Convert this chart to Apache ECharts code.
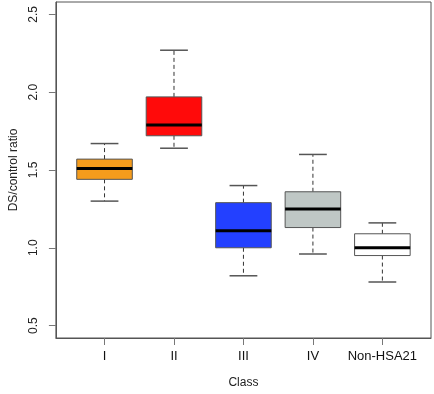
<!DOCTYPE html>
<html>
<head>
<meta charset="utf-8">
<script src="https://cdn.jsdelivr.net/npm/echarts@6/dist/echarts.min.js"></script>
<style>
html,body{margin:0;padding:0;background:#fff;}
#main{width:434px;height:394px;}
</style>
</head>
<body>
<div id="main"></div>
<script>
var classes = ['I', 'II', 'III', 'IV', 'Non-HSA21'];
// [min, Q1, median, Q3, max]
var stats = [
    [1.30, 1.44, 1.51, 1.57, 1.67],
    [1.64, 1.72, 1.79, 1.97, 2.27],
    [0.82, 1.00, 1.11, 1.29, 1.40],
    [0.96, 1.13, 1.25, 1.36, 1.60],
    [0.78, 0.95, 1.00, 1.09, 1.16]
];
var fills = ['#F59C1C', '#FF0A0A', '#2340FF', '#BFC7C5', '#FFFFFF'];
var yTicks = [0.5, 1.0, 1.5, 2.0, 2.5];
var xTicks = [0, 1, 2, 3, 4];

var myChart = echarts.init(document.getElementById('main'));

var data = [];
for (var i = 0; i < stats.length; i++) {
    data.push([i].concat(stats[i]));
}

function renderBox(params, api) {
    var x = api.value(0);
    var band = api.size([1, 0])[0];
    var half = band * 0.4;
    var capHalf = band * 0.2;
    var pMin = api.coord([x, api.value(1)]);
    var pQ1 = api.coord([x, api.value(2)]);
    var pMed = api.coord([x, api.value(3)]);
    var pQ3 = api.coord([x, api.value(4)]);
    var pMax = api.coord([x, api.value(5)]);
    var cx = pMed[0];
    var dash = {stroke: '#333', lineWidth: 1, lineDash: [4, 3]};
    var cap = {stroke: '#555', lineWidth: 1.5};
    return {
        type: 'group',
        children: [
            {type: 'line', shape: {x1: cx, y1: pQ3[1], x2: cx, y2: pMax[1]}, style: dash},
            {type: 'line', shape: {x1: cx, y1: pQ1[1], x2: cx, y2: pMin[1]}, style: dash},
            {type: 'line', shape: {x1: cx - capHalf, y1: pMax[1], x2: cx + capHalf, y2: pMax[1]}, style: cap},
            {type: 'line', shape: {x1: cx - capHalf, y1: pMin[1], x2: cx + capHalf, y2: pMin[1]}, style: cap},
            {type: 'rect', shape: {x: cx - half, y: pQ3[1], width: half * 2, height: pQ1[1] - pQ3[1]},
                style: {fill: fills[params.dataIndex], stroke: '#555', lineWidth: 1}},
            {type: 'line', shape: {x1: cx - half, y1: pMed[1], x2: cx + half, y2: pMed[1]},
                style: {stroke: '#000', lineWidth: 3}}
        ]
    };
}

var option = {
    animation: false,
    grid: {
        left: 52, right: 3, top: 2, bottom: 51,
        show: true, borderColor: '#555', borderWidth: 1
    },
    xAxis: {
        type: 'value',
        min: -0.7,
        max: 4.7,
        name: 'Class',
        nameLocation: 'middle',
        nameGap: 39,
        nameTextStyle: {fontFamily: 'Liberation Sans', fontSize: 12, color: '#222'},
        splitLine: {show: false},
        axisLine: {show: true, onZero: false, lineStyle: {color: '#555'}},
        axisTick: {show: true, length: 7, customValues: xTicks, lineStyle: {color: '#777'}},
        axisLabel: {
            customValues: xTicks,
            margin: 12,
            fontFamily: 'Liberation Sans', fontSize: 13, color: '#111',
            formatter: function (v) { return classes[Math.round(v)]; }
        }
    },
    yAxis: {
        type: 'value',
        min: 0.42,
        max: 2.58,
        name: 'DS/control ratio',
        nameLocation: 'middle',
        nameGap: 34,
        nameTextStyle: {fontFamily: 'Liberation Sans', fontSize: 12, color: '#222'},
        splitLine: {show: false},
        axisLine: {show: true, onZero: false, lineStyle: {color: '#555'}},
        axisTick: {show: true, length: 7, customValues: yTicks, lineStyle: {color: '#777'}},
        axisLabel: {
            customValues: yTicks,
            rotate: 90,
            margin: 16,
            fontFamily: 'Liberation Sans', fontSize: 12, color: '#222',
            formatter: function (v) { return v.toFixed(1); }
        }
    },
    series: [{
        type: 'custom',
        renderItem: renderBox,
        encode: {x: 0, y: [1, 2, 3, 4, 5]},
        data: data
    }]
};
myChart.setOption(option);
window.onresize = myChart.resize;
</script>
</body>
</html>
